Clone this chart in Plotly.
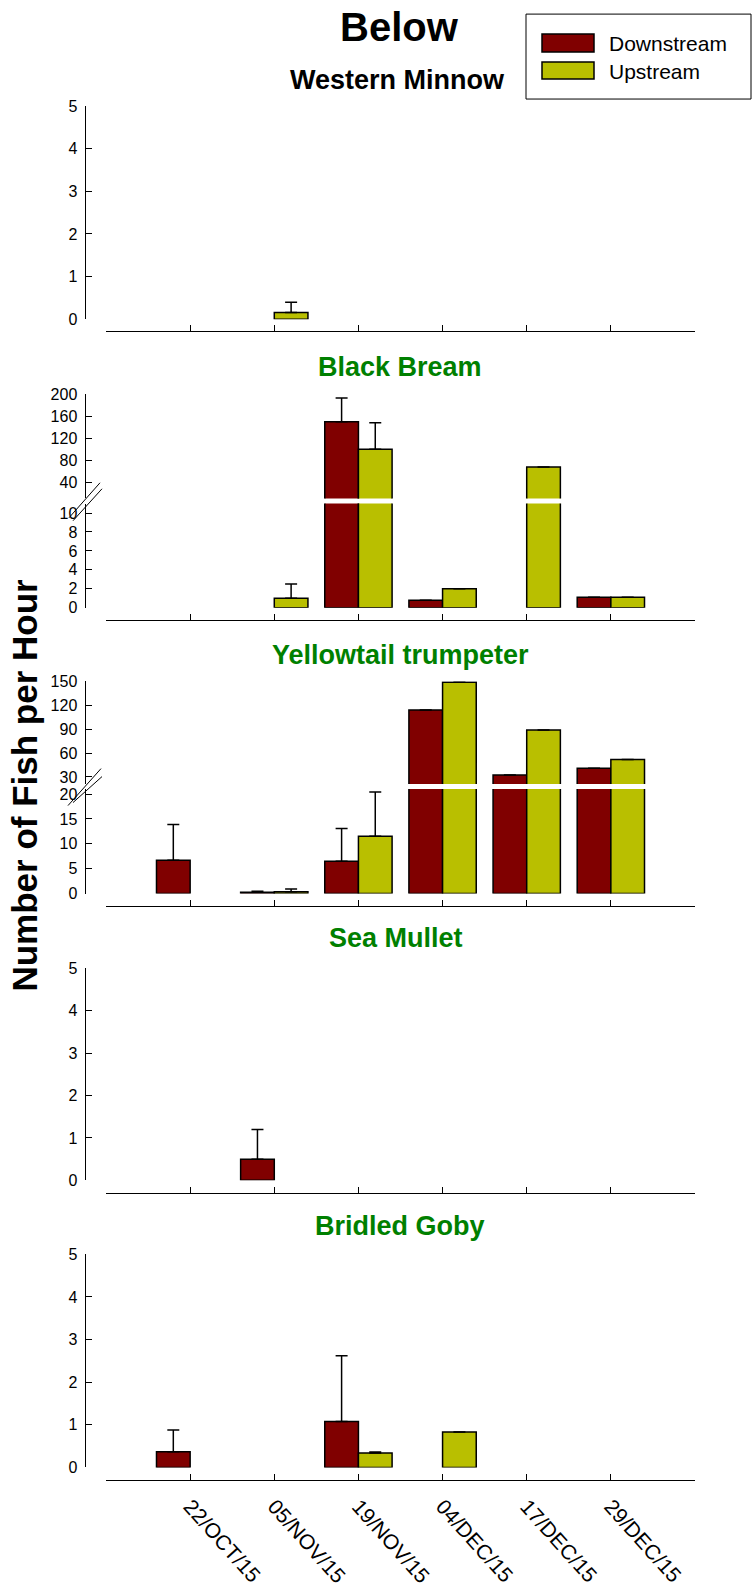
import plotly.graph_objects as go

W, H = 755, 1596

dates = ["22/OCT/15", "05/NOV/15", "19/NOV/15", "04/DEC/15", "17/DEC/15", "29/DEC/15"]
series_names = ["Downstream", "Upstream"]
down_color = "#800000"
up_color = "#b9bf00"
title_green = "#008000"

# Western Minnow
wm_down = [None, None, None, None, None, None]
wm_down_err = [None, None, None, None, None, None]
wm_up = [None, 0.16, None, None, None, None]
wm_up_err = [None, 0.24, None, None, None, None]

# Black Bream
bb_down = [None, None, 150, 0.8, None, 1.1]
bb_down_err = [None, None, 43, None, None, None]
bb_up = [None, 1.0, 100, 2.0, 68, 1.1]
bb_up_err = [None, 1.5, 48, None, None, None]

# Yellowtail trumpeter
yt_down = [6.7, 0.25, 6.5, 114, 32.5, 41]
yt_down_err = [7.2, 0.2, 6.6, None, None, None]
yt_up = [None, 0.35, 11.5, 149, 89, 52]
yt_up_err = [None, 0.55, 8.9, None, None, None]

# Sea Mullet
sm_down = [None, 0.5, None, None, None, None]
sm_down_err = [None, 0.7, None, None, None, None]
sm_up = [None, None, None, None, None, None]
sm_up_err = [None, None, None, None, None, None]

# Bridled Goby
bg_down = [0.37, None, 1.08, None, None, None]
bg_down_err = [0.51, None, 1.54, None, None, None]
bg_up = [None, None, 0.34, 0.83, None, None]
bg_up_err = [None, None, 0.02, None, None, None]

FONT = "Liberation Sans, Arial, sans-serif"


def fx(p):
    return p / W


def fy(p):
    # vertical pixel (from top) -> paper fraction, with a small correction
    # for the vertical scaling observed in the rendered page
    q = (p - 7.9) / 0.990
    return 1 - q / H


fig = go.Figure()


def add_pair(xa, ya, down, down_err, up, up_err, min_val=None):
    for name, vals, errs, col in [("Downstream", down, down_err, down_color),
                                  ("Upstream", up, up_err, up_color)]:
        if min_val is not None:
            # upper segment of a broken axis: only bars above the break carry error bars
            errs = [e if (v is not None and v > min_val) else None for v, e in zip(vals, errs)]
        fig.add_trace(go.Bar(
            x=dates, y=vals, name=name, xaxis=xa, yaxis=ya,
            marker=dict(color=col, line=dict(color="black", width=1.5)),
            error_y=dict(type="data", symmetric=False, array=errs,
                         arrayminus=[0] * len(errs), color="black",
                         thickness=1.5, width=6),
            showlegend=False, offsetgroup=name,
        ))


add_pair("x", "y", wm_down, wm_down_err, wm_up, wm_up_err)
add_pair("x2", "y2", bb_down, bb_down_err, bb_up, bb_up_err)
add_pair("x2", "y3", bb_down, bb_down_err, bb_up, bb_up_err, min_val=11)
add_pair("x3", "y4", yt_down, yt_down_err, yt_up, yt_up_err)
add_pair("x3", "y5", yt_down, yt_down_err, yt_up, yt_up_err, min_val=21)
add_pair("x4", "y6", sm_down, sm_down_err, sm_up, sm_up_err)
add_pair("x5", "y7", bg_down, bg_down_err, bg_up, bg_up_err)

x_dom = [fx(106), fx(695)]
y_axis_pos = fx(84.5)

tickfont = dict(family=FONT, size=16, color="black")


def xaxis(pos_px, labels=False):
    return dict(
        type="category", range=[-1, 6], domain=x_dom, anchor="free",
        position=fy(pos_px), showline=True, linecolor="black", linewidth=1,
        ticks="inside", ticklen=6, tickcolor="black", tickwidth=1,
        showgrid=False, zeroline=False, showticklabels=labels,
        tickangle=48, tickfont=dict(family=FONT, size=21, color="black"),
        ticklabelstandoff=5,
    )


def yaxis(top_px, bot_px, rng, dtick, tick0=0):
    return dict(
        domain=[fy(bot_px), fy(top_px)], range=rng, anchor="free",
        position=y_axis_pos, showline=True, linecolor="black", linewidth=1,
        ticks="inside", ticklen=6, tickcolor="black", tickwidth=1,
        showgrid=False, zeroline=False, dtick=dtick, tick0=tick0,
        tickfont=tickfont, ticklabelstandoff=4,
    )


fig.update_layout(
    width=W, height=H, margin=dict(l=0, r=0, t=0, b=0),
    paper_bgcolor="white", plot_bgcolor="white",
    barmode="group", bargap=0.2, bargroupgap=0,
    font=dict(family=FONT, color="black"),
    xaxis=xaxis(331),
    xaxis2=xaxis(620),
    xaxis3=xaxis(906),
    xaxis4=xaxis(1193.3),
    xaxis5=xaxis(1480.7, labels=True),
    yaxis=yaxis(106, 319.3, [0, 5], 1),
    yaxis2=yaxis(503.8, 608, [0, 11], 2),
    yaxis3=yaxis(394.3, 498.7, [11, 200], 40, 0),
    yaxis4=yaxis(789.5, 894, [0, 21], 5),
    yaxis5=yaxis(681.7, 784.5, [21, 150], 30, 0),
    yaxis6=yaxis(969, 1181, [0, 5], 1),
    yaxis7=yaxis(1255, 1468.3, [0, 5], 1),
)

annotations = []


def text(t, xpx, ypx, size, color="black", bold=True, angle=0, xanchor="center"):
    annotations.append(dict(
        text=("<b>%s</b>" % t) if bold else t, x=fx(xpx), y=fy(ypx),
        xref="paper", yref="paper", xanchor=xanchor, yanchor="middle",
        showarrow=False, textangle=angle,
        font=dict(family=FONT, size=size, color=color),
    ))


text("Below", 399, 27, 40)
text("Western Minnow", 397, 80, 27)
text("Black Bream", 400, 367, 27, title_green)
text("Yellowtail trumpeter", 400, 655, 27, title_green)
text("Sea Mullet", 396, 939, 27, title_green)
text("Bridled Goby", 400, 1227, 27, title_green)
text("Number of Fish per Hour", 25, 786, 35, angle=-90)

# legend (drawn)
shapes = [
    dict(type="rect", xref="paper", yref="paper", x0=fx(526), x1=fx(751),
         y0=fy(99), y1=fy(14), line=dict(color="black", width=1), fillcolor="white"),
    dict(type="rect", xref="paper", yref="paper", x0=fx(542), x1=fx(594),
         y0=fy(52), y1=fy(34), line=dict(color="black", width=1.5), fillcolor=down_color),
    dict(type="rect", xref="paper", yref="paper", x0=fx(542), x1=fx(594),
         y0=fy(79), y1=fy(62), line=dict(color="black", width=1.5), fillcolor=up_color),
]
text(series_names[0], 607, 43.5, 21, bold=False, xanchor="left")
text(series_names[1], 607, 71, 21, bold=False, xanchor="left")

# axis break marks
for (x0, y0, x1, y1) in [(69, 518, 100, 483), (73, 521, 102, 489),
                         (68, 806, 101, 769), (73, 803, 102, 777)]:
    shapes.append(dict(type="line", xref="paper", yref="paper",
                       x0=fx(x0), y0=fy(y0), x1=fx(x1), y1=fy(y1),
                       line=dict(color="black", width=1)))

fig.update_layout(annotations=annotations, shapes=shapes)

fig.write_html("out.html")
